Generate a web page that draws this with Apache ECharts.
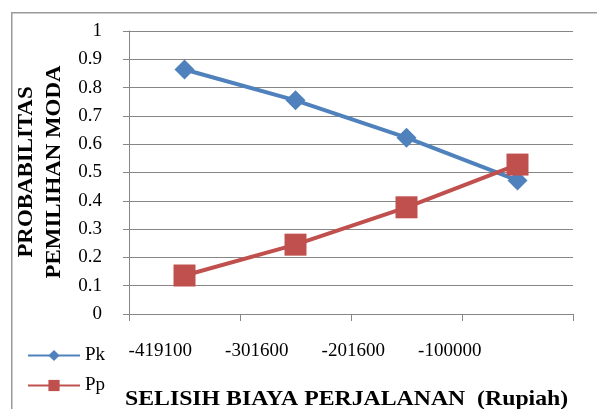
<!DOCTYPE html>
<html>
<head>
<meta charset="utf-8">
<script src="https://cdn.jsdelivr.net/npm/echarts@6/dist/echarts.min.js"></script>
<style>
  html, body { margin: 0; padding: 0; background: #fff; }
  #chart { width: 597px; height: 409px; }
</style>
</head>
<body>
<div id="chart"></div>
<script>
var categories = ['-419100', '-301600', '-201600', '-100000'];
var pk = [0.864, 0.755, 0.623, 0.472];
var pp = [0.136, 0.245, 0.377, 0.528];

var myChart = echarts.init(document.getElementById('chart'));
var serif = '"Liberation Serif", "DejaVu Serif", serif';
var gridColor = '#868686';

var option = {
    animation: false,
    backgroundColor: '#fff',
    grid: [
        { left: 129, right: 24, top: 31, bottom: 95 },
        // labels of the original sit a bit left of their categories
        { left: 112, right: 99, top: 31, bottom: 95 }
    ],
    legend: {
        orient: 'vertical',
        left: 22,
        top: 341,
        itemWidth: 52,
        itemHeight: 14,
        itemGap: 11,
        textStyle: { fontFamily: serif, fontSize: 19, color: '#000' },
        data: ['Pk', 'Pp']
    },
    xAxis: [
        {
            type: 'category',
            data: categories,
            boundaryGap: true,
            axisLine: { lineStyle: { color: gridColor, width: 1 } },
            axisTick: { show: true, length: 7, lineStyle: { color: gridColor } },
            axisLabel: { show: false }
        },
        {
            type: 'category',
            gridIndex: 1,
            data: categories,
            boundaryGap: true,
            axisLine: { show: false },
            axisTick: { show: false },
            axisLabel: { fontFamily: serif, fontSize: 19, color: '#000', margin: 28 }
        }
    ],
    yAxis: [
        {
            type: 'value',
            min: 0,
            max: 1,
            interval: 0.1,
            axisLine: { show: true, lineStyle: { color: gridColor, width: 1 } },
            axisTick: { show: true, length: 6, lineStyle: { color: gridColor } },
            axisLabel: { fontFamily: serif, fontSize: 19, color: '#000', margin: 27 },
            splitLine: { lineStyle: { color: gridColor, width: 1.2 } }
        },
        { type: 'value', gridIndex: 1, show: false, min: 0, max: 1 }
    ],
    graphic: [
        {
            type: 'rect',
            left: 11,
            top: 12,
            shape: { width: 620, height: 430 },
            style: { fill: 'rgba(0,0,0,0)', stroke: '#9a9a9a', lineWidth: 1.5 }
        },
        {
            type: 'text',
            x: 40, y: 172,
            rotation: Math.PI / 2,
            scaleX: 1.04,
            style: {
                text: 'PROBABILITAS\nPEMILIHAN MODA',
                font: 'bold 22px ' + serif,
                fill: '#000',
                align: 'center',
                verticalAlign: 'middle',
                lineHeight: 28
            }
        },
        {
            type: 'text',
            x: 125,
            y: 399,
            scaleX: 1.08,
            style: {
                text: 'SELISIH BIAYA PERJALANAN  (Rupiah)',
                font: 'bold 22px ' + serif,
                fill: '#000',
                verticalAlign: 'middle'
            }
        }
    ],
    series: [
        {
            name: 'Pk',
            type: 'line',
            data: pk,
            symbol: 'diamond',
            symbolSize: 20,
            color: '#4F81BD',
            lineStyle: { width: 4 },
            itemStyle: { color: '#4F81BD' }
        },
        {
            name: 'Pp',
            type: 'line',
            data: pp,
            symbol: 'rect',
            symbolSize: 22,
            color: '#C0504D',
            lineStyle: { width: 4 },
            itemStyle: { color: '#C0504D' }
        }
    ]
};
myChart.setOption(option);
</script>
</body>
</html>
